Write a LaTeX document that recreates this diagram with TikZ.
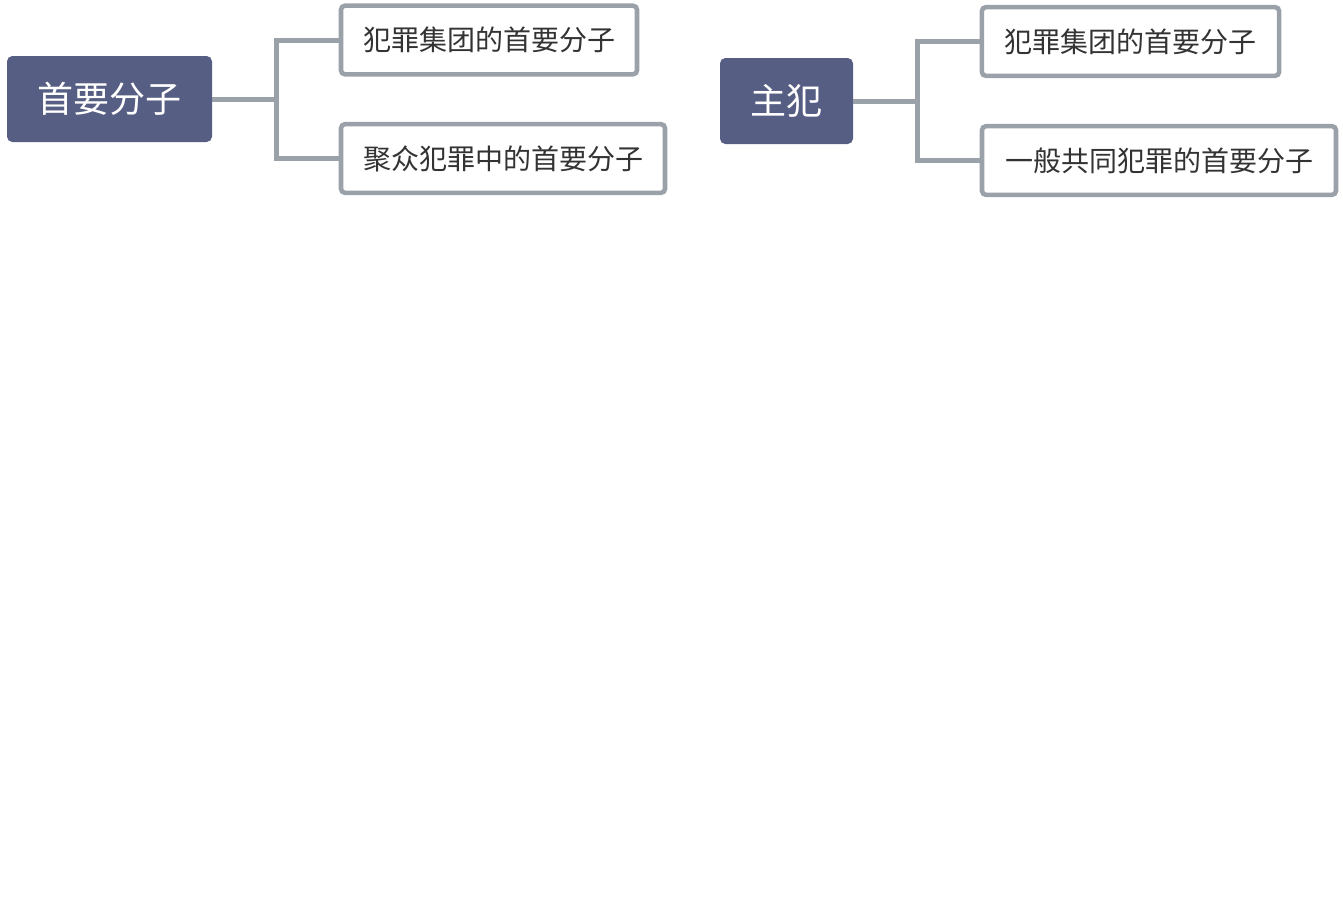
\documentclass[tikz,border=0pt]{standalone}
\usepackage{fontspec}
\newfontfamily\cjk{Noto Sans CJK SC}
\definecolor{rootblue}{HTML}{575E84}
\definecolor{linegray}{HTML}{9AA1A9}
\definecolor{textgray}{HTML}{333333}

\begin{document}
\begin{tikzpicture}[x=0.75pt, y=-0.75pt,
    rootbox/.style={fill=rootblue, rounded corners=4pt, text=white,
      minimum height=64.5pt, inner sep=0pt,
      font=\cjk\fontsize{27}{31}\selectfont},
    leafbox/.style={draw=linegray, line width=3.4pt, fill=white,
      rounded corners=3pt, text=textgray, minimum height=51.5pt, inner sep=0pt,
      font=\cjk\fontsize{21}{25}\selectfont},
    conn/.style={draw=linegray, line width=3.75pt}]

  \useasboundingbox (0,0) rectangle (1343,897);

  % ============================================================
  % LEFT MAP
  % ============================================================
  \node[rootbox, minimum width=153.75pt] (lead) at (109.5,99) {首要分子};
  \node[leafbox, minimum width=222pt] (leadgang) at (489,40) {犯罪集团的首要分子};
  \node[leafbox, minimum width=243pt] (leadmob) at (503,158.5) {聚众犯罪中的首要分子};

  \coordinate (leadfork) at (276,99);
  \draw[conn] (lead.east) -- (leadfork);
  \draw[conn] (leadgang.west) -| (leadfork) |- (leadmob.west);

  % ============================================================
  % RIGHT MAP
  % ============================================================
  \node[rootbox, minimum width=99.75pt] (main) at (786.5,101) {主犯};
  \node[leafbox, minimum width=223pt] (maingang) at (1130.5,41.5) {犯罪集团的首要分子};
  \node[leafbox, minimum width=265.5pt] (maincommon) at (1159,160.5) {一般共同犯罪的首要分子};

  \coordinate (mainfork) at (917,101);
  \draw[conn] (main.east) -- (mainfork);
  \draw[conn] (maingang.west) -| (mainfork) |- (maincommon.west);

\end{tikzpicture}
\end{document}
